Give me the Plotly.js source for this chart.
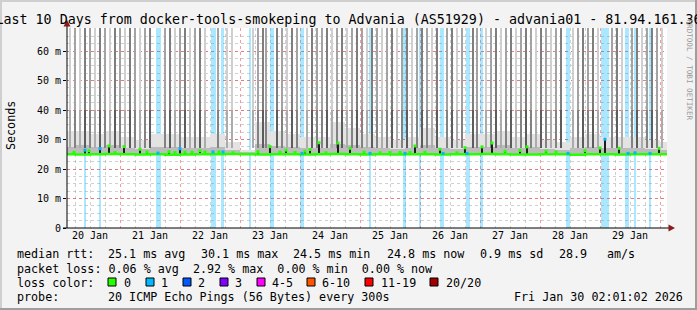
<!DOCTYPE html>
<html><head><meta charset="utf-8">
<script src="https://cdn.plot.ly/plotly-3.0.1.min.js"></script>
<style>html,body{margin:0;padding:0;background:#f3f3f3;}#chart{width:697px;height:310px;}</style>
</head><body><div id="chart"></div>
<script>
// ---- data (time in hours since 2026-01-20 00:00, values in ms) ----
const titleText = "Last 10 Days from docker-tools-smokeping to Advania (AS51929) - advania01 - 81.94.161.36";
const yTickVals = [0, 10, 20, 30, 40, 50, 60];
const yTickText = ["0", "10 m", "20 m", "30 m", "40 m", "50 m", "60 m"];

// packet-loss background stripes (centre hour, duration hours)
const lossHours = [10.0, 16.0, 39.4, 61.4, 65.0, 76.0, 84.8, 96.8, 124.0, 137.8, 144.0, 152.8, 163.2, 168.6, 203.2, 218.0, 226.8, 230.0, 236.0];
const lossDur   = [0.8, 0.8, 2.0, 2.0, 1.2, 0.8, 1.6, 1.6, 0.8, 1.2, 0.8, 1.6, 1.6, 1.2, 1.6, 3.2, 1.6, 0.8, 0.8];

// high-latency smoke stripes (hour) and their density (1 light .. 3 dark)
const stripeHours = [4,6,8,10,12,14,16,18,20,22,24,26,28,30,32,34,36,
  42,44,46,48,50,52,54,56,58,
  63.2,66.8,68.8,
  77.2,79.2,81.2,82.4,
  86.8,88.8,90.8,92.8,94.8,
  98.8,100.8,102.8,104.8,106.8,108.8,110.8,112.8,114.8,116.8,118.8,120.8,122.8,124.8,126.8,128.8,130.8,132.8,134.8,136.8,138.8,140.8,142.8,144.8,146.8,148.8,150.8,
  154.8,156.8,158.8,160.8,
  165.2,166.8,
  170.4,172.4,174.4,176.4,178.4,180.4,182.4,184.4,186.4,188.4,190.4,192.4,194.4,196.4,198.4,200.4,
  205.2,207.2,209.2,211.2,213.2,215.2,
  220.8,222.8,224.8,
  228.8,230.8,232.8,234.8,236.8,238.8,240.8];
const stripeShade = [1,2,1,3,2,1,3,2,1,3,2,1,3,2,1,2,3,
  2,3,1,2,3,1,2,3,1,
  2,1,1,
  1,2,3,2,
  3,2,1,3,2,
  1,3,2,2,3,1,2,3,1,2,3,2,1,3,2,1,2,3,1,2,3,1,2,3,2,1,3,
  2,3,1,2,
  3,2,
  1,2,3,1,2,3,1,2,3,2,1,3,2,1,2,3,
  1,2,3,2,3,1,
  2,3,1,
  2,3,1,2,3,2,1];

// low smoke band per 6-hour bin (bin centre hour, top of light smoke, top of dense smoke)
const bandHours = [3,9,15,21,27,33,39,45,51,57,63,69,75,81,87,93,99,105,111,117,123,129,135,141,147,153,159,165,171,177,183,189,195,201,207,213,219,225,231,237,243];
const bandLight = [33,33,32,33,31,30,32,32,31,31,32,29,26.5,36,33,32,31,31,36,34,32,31,30,31,34,31,30,32,32,33,31,32,30,29,31,32,31,31,31,30,29];
const bandDense = [27.5,28,27.5,28,27,26.8,27.5,27.5,27,27.2,27.5,26.5,25.6,28.5,27.8,27.5,27.2,27,28.5,28,27.5,27,26.8,27,28,27,26.8,27.5,27.5,28,27,27.5,26.8,26.5,27,27.5,27.2,27,27,26.8,26.5];

// median rtt
const medianHours = [0,6,12,18,24,30,36,42,48,54,60,66,72,78,84,90,96,102,108,114,120,126,132,138,144,150,156,162,168,174,180,186,192,198,204,210,216,222,228,234,240,246];
const medianVals  = [25.0,24.9,25.0,25.1,25.0,24.9,25.0,24.8,24.9,25.0,25.0,25.1,25.0,24.9,25.0,25.0,24.9,25.0,25.1,25.0,24.9,25.0,24.9,25.0,25.0,24.9,25.0,25.0,25.1,25.0,24.9,24.9,25.0,25.0,24.8,25.0,25.0,24.9,25.0,25.0,25.0,25.0];

// short median excursions (hour, value ms, loss class index)
const spikeHours = [5.6,10.0,11.6,16.0,19.6,22.0,25.6,32.0,34.8,39.2,43.6,46.0,48.0,50.0,52.8,56.0,58.0,61.2,63.6,65.2,69.2,79.2,84.0,88.0,90.4,94.0,96.8,98.0,100.0,103.6,106.4,111.2,116.0,121.6,124.0,128.0,132.0,136.0,138.0,140.0,142.0,146.0,152.0,153.2,158.8,162.0,162.8,168.8,172.8,178.0,184.0,186.8,194.4,198.4,203.2,210.0,216.0,218.0,223.6,227.2,230.0,236.0,239.6];
const spikeVals  = [25.6,26.4,26.2,26.9,27.8,25.6,27.6,26.7,25.8,25.4,25.9,25.6,26.9,25.7,25.7,26.2,25.8,25.8,25.8,25.8,25.5,25.9,27.6,25.7,26.4,25.6,25.3,26.0,26.6,28.9,25.5,28.8,27.0,25.7,25.3,25.5,25.6,25.6,25.3,25.6,27.8,25.7,26.7,25.3,25.5,27.2,25.3,27.5,28.8,26.0,26.3,27.5,26.0,25.8,25.3,26.2,27.1,30.1,27.0,25.3,25.5,25.3,27.0];
const spikeLoss  = [0,1,0,1,0,0,0,0,0,1,0,0,1,0,0,0,0,1,0,1,0,0,0,0,0,0,1,0,0,0,0,0,0,0,1,0,0,0,1,0,0,0,0,1,0,0,1,0,0,0,0,0,0,0,1,0,0,1,0,1,1,1,0];

// loss colour legend
const lossLabels = ["0", "1", "2", "3", "4-5", "6-10", "11-19", "20/20"];
const lossColors = ["#26ff00", "#00b8ff", "#0059ff", "#7e00ff", "#ff00ff", "#ff5500", "#ff0000", "#a10000"];

// ---- drawing ----
const W = 697, H = 310, L = 67, R = 30, T = 28, B = 82;
const PW = W - L - R, PH = H - T - B;
const YMAX = 67.8;
const T0 = Date.UTC(2026, 0, 20);
const HOUR = 3600e3;
function d(h) { return new Date(T0 + h * HOUR).toISOString().slice(0, 19).replace('T', ' '); }
function px(x) { return (x - L) / PW; }
function py(y) { return (H - B - y) / PH; }
const mono = 'DejaVu Sans Mono';

const shadeUpper = {1: '#cfcfcf', 2: '#a3a3a3', 3: '#7e7e7e'};
const shadeLower = {1: '#ababab', 2: '#828282', 3: '#5c5c5c'};

const traces = [];
traces.push({type: 'bar', x: lossHours.map(d), y: lossHours.map(() => YMAX), base: 0,
  width: lossDur.map(w => w * HOUR), marker: {color: 'rgba(0,184,255,0.33)', line: {width: 0}}, hoverinfo: 'skip'});
traces.push({type: 'bar', x: bandHours.map(d), base: 24.6, y: bandLight.map(v => v - 24.6),
  width: 6 * HOUR, marker: {color: '#e3e3e3', line: {width: 0}}, hoverinfo: 'skip'});
traces.push({type: 'bar', x: bandHours.map(d), base: 24.6, y: bandDense.map(v => v - 24.6),
  width: 6 * HOUR, marker: {color: '#bcbcbc', line: {width: 0}}, hoverinfo: 'skip'});
traces.push({type: 'bar', x: stripeHours.map(d), base: 27, y: stripeHours.map(() => 13),
  width: 1.1 * HOUR, marker: {color: stripeShade.map(s => shadeLower[s]), line: {width: 0}}, hoverinfo: 'skip'});
traces.push({type: 'bar', x: stripeHours.map(d), base: 40, y: stripeHours.map(() => YMAX - 40),
  width: 1.1 * HOUR, marker: {color: stripeShade.map(s => shadeUpper[s]), line: {width: 0}}, hoverinfo: 'skip'});
traces.push({type: 'bar', x: spikeHours.map(d), base: 24.9, y: spikeVals.map(v => v - 24.9),
  width: 0.6 * HOUR, marker: {color: '#1e1e1e', line: {width: 0}}, hoverinfo: 'skip'});
traces.push({type: 'scatter', mode: 'lines', x: medianHours.map(d), y: medianVals,
  line: {color: lossColors[0], width: 2.5, shape: 'hv'}, hoverinfo: 'skip'});
traces.push({type: 'scatter', mode: 'markers', x: spikeHours.map(d), y: spikeVals,
  marker: {symbol: 'square', size: 3, color: spikeLoss.map(i => lossColors[i]), line: {width: 0}}, hoverinfo: 'skip'});

const annotations = [];
function txt(text, x, y, opts) {
  annotations.push(Object.assign({text: text.replace(/ /g, '\u00a0'), xref: 'paper', yref: 'paper', x: px(x), y: py(y),
    xanchor: 'left', yanchor: 'middle', showarrow: false, font: {family: mono, size: 11.7, color: '#000'}}, opts || {}));
}
const rows = [254, 268.5, 282.5, 297];
txt('median rtt:', 14.5, rows[0]);
txt('25.1 ms avg', 106, rows[0]);
txt('30.1 ms max', 198.5, rows[0]);
txt('24.5 ms min', 291, rows[0]);
txt('24.8 ms now', 385, rows[0]);
txt('0.9 ms sd', 477.5, rows[0]);
txt('28.9', 556.5, rows[0]);
txt('am/s', 605, rows[0]);
txt('packet loss: 0.06 % avg  2.92 % max  0.00 % min  0.00 % now', 14.5, rows[1]);
txt('loss color:', 14.5, rows[2]);
const sqX = [108, 146, 183, 220, 257, 307, 365, 430];
const labX = [121.5, 159, 196, 232.5, 270, 320, 379, 444];
lossLabels.forEach((lab, i) => txt(lab, labX[i], rows[2]));
txt('probe:', 14.5, rows[3]);
txt('20 ICMP Echo Pings (56 Bytes) every 300s', 106, rows[3]);
txt('Fri Jan 30 02:01:02 2026', 512, rows[3]);
txt('Seconds', 11, 126, {xanchor: 'center', textangle: -90});
txt('RRDTOOL / TOBI OETIKER', 689.5, 70, {xanchor: 'center', textangle: 90, font: {family: mono, size: 7.6, color: '#9a9a9a'}});

const shapes = [];
function rect(x0, y0, x1, y1, fill, line) {
  shapes.push({type: 'rect', xref: 'paper', yref: 'paper', x0: px(x0), x1: px(x1), y0: py(y0), y1: py(y1),
    fillcolor: fill, line: line || {width: 0}, layer: 'above'});
}
// frame
rect(0, 0, 697, 2, '#cfcfcf');
rect(0, 0, 2, 310, '#cfcfcf');
rect(0, 308, 697, 310, '#9e9e9e');
rect(695, 0, 697, 310, '#9e9e9e');
// loss colour boxes
sqX.forEach((x, i) => rect(x, 278, x + 8, 286, lossColors[i], {color: '#000', width: 1}));
// axis extensions and arrows
shapes.push({type: 'line', xref: 'paper', yref: 'paper', x0: px(67), x1: px(67), y0: py(228), y1: py(23), line: {color: '#000', width: 1}, layer: 'above'});
shapes.push({type: 'line', xref: 'paper', yref: 'paper', x0: px(63), x1: px(670), y0: py(228), y1: py(228), line: {color: '#000', width: 1}, layer: 'above'});
shapes.push({type: 'path', xref: 'paper', yref: 'paper', path: `M ${px(63.5)} ${py(26.5)} L ${px(70.5)} ${py(26.5)} L ${px(67)} ${py(20)} Z`, fillcolor: '#8b1a1a', line: {width: 0}, layer: 'above'});
shapes.push({type: 'path', xref: 'paper', yref: 'paper', path: `M ${px(668.5)} ${py(224.5)} L ${px(668.5)} ${py(231.5)} L ${px(675)} ${py(228)} Z`, fillcolor: '#8b1a1a', line: {width: 0}, layer: 'above'});

const layout = {
  width: W, height: H, margin: {l: L, r: R, t: T, b: B, pad: 0},
  paper_bgcolor: '#f3f3f3', plot_bgcolor: '#ffffff',
  showlegend: false, barmode: 'overlay', bargap: 0,
  title: {text: titleText, font: {family: mono, size: 13.33, color: '#000'}, x: 0.5, xref: 'container', xanchor: 'center',
    y: 1 - 19 / H, yref: 'container', yanchor: 'middle'},
  xaxis: {type: 'date', range: [d(2.8), d(242.8)], tick0: d(0), dtick: 86400000, tickformat: '%d %b', ticklabelmode: 'period',
    showgrid: true, gridcolor: 'rgba(255,0,0,0.4)', griddash: 'dot', gridwidth: 1,
    minor: {dtick: 6 * HOUR, showgrid: true, gridcolor: 'rgba(150,150,150,0.45)', griddash: 'dot', gridwidth: 1},
    showline: false, zeroline: false, ticks: '', tickfont: {family: mono, size: 10, color: '#000'}, fixedrange: true},
  yaxis: {range: [0, YMAX], tickvals: yTickVals, ticktext: yTickText,
    showgrid: true, gridcolor: 'rgba(255,0,0,0.4)', griddash: 'dot', gridwidth: 1,
    minor: {dtick: 2.5, showgrid: true, gridcolor: 'rgba(150,150,150,0.45)', griddash: 'dot', gridwidth: 1},
    showline: false, zeroline: false, ticks: 'outside', ticklen: 3, tickcolor: '#000', tickwidth: 1,
    tickfont: {family: mono, size: 10, color: '#000'}, fixedrange: true},
  annotations: annotations, shapes: shapes
};
Plotly.newPlot('chart', traces, layout, {staticPlot: true, displayModeBar: false});
</script></body></html>
